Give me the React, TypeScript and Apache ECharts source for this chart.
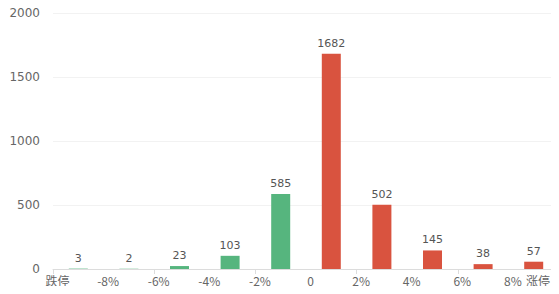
import React, { useEffect, useRef } from "react";
import * as echarts from "echarts";

const bins = ["跌停~-8%", "-8%~-6%", "-6%~-4%", "-4%~-2%", "-2%~0", "0~2%", "2%~4%", "4%~6%", "6%~8%", "8%~涨停"];
const counts = [3, 2, 23, 103, 585, 1682, 502, 145, 38, 57];
const tickLabels = ["跌停", "-8%", "-6%", "-4%", "-2%", "0", "2%", "4%", "6%", "8%", "涨停"];
const yTicks = [0, 500, 1000, 1500, 2000];

const GREEN = "#56b57e";
const RED = "#d9533f";

export default function App() {
  const ref = useRef<HTMLDivElement>(null);
  useEffect(() => {
    const chart = echarts.init(ref.current!, null, { renderer: "svg" });
    const n = tickLabels.length;
    chart.setOption({
      animation: false,
      grid: { left: 53, right: 0, top: 13, bottom: 25, containLabel: false },
      xAxis: [
        {
          type: "category",
          data: bins,
          boundaryGap: true,
          axisLine: { show: true, lineStyle: { color: "#dcdcdc" } },
          axisTick: { show: true, length: 5, lineStyle: { color: "#dcdcdc" } },
          axisLabel: { show: false },
          splitLine: { show: false },
        },
        {
          type: "category",
          data: tickLabels,
          boundaryGap: false,
          position: "bottom",
          axisLine: { show: false },
          axisTick: { show: false },
          splitLine: { show: false },
          axisLabel: {
            show: true,
            interval: 0,
            margin: 5,
            color: "#666",
            fontSize: 12,
            fontFamily: "'Noto Sans CJK SC', 'DejaVu Sans', sans-serif",
            formatter: (v: string, i: number) => (i === n - 1 ? `{last|${v}}` : `{n|${v}}`),
            rich: {
              n: { padding: [0, 0, 0, 9], color: "#666", fontSize: 12 },
              last: { padding: [0, 42, 0, 0], color: "#666", fontSize: 12 },
            },
          },
        },
      ],
      yAxis: {
        type: "value",
        min: 0,
        max: 2000,
        interval: 500,
        axisLine: { show: false },
        axisTick: { show: false },
        axisLabel: {
          color: "#666",
          fontSize: 12,
          margin: 13,
          fontFamily: "'DejaVu Sans', sans-serif",
          formatter: (v: number) => (yTicks.includes(v) ? String(v) : ""),
        },
        splitLine: { lineStyle: { color: "#f2f2f2" } },
      },
      series: [
        {
          type: "bar",
          xAxisIndex: 0,
          data: counts.map((v, i) => ({
            value: v,
            itemStyle: { color: i < 5 ? GREEN : RED },
          })),
          barWidth: 19,
          label: {
            show: true,
            position: "top",
            distance: 5,
            color: "#555",
            fontSize: 11,
            fontFamily: "'DejaVu Sans', sans-serif",
          },
        },
      ],
    });
    return () => chart.dispose();
  }, []);
  return <div ref={ref} style={{ width: 559, height: 294, margin: -8 }} />;
}
